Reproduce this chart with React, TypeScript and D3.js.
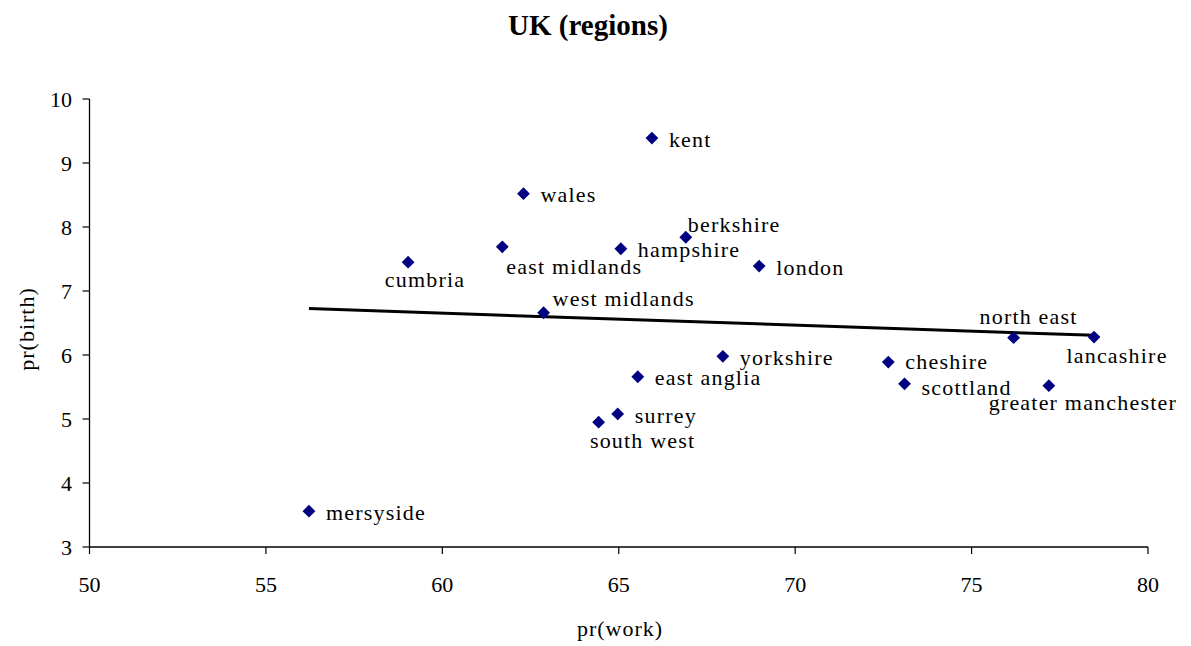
import * as d3 from "d3";

const regions = [
  "kent", "wales", "berkshire", "east midlands", "hampshire", "cumbria",
  "london", "west midlands", "north east", "lancashire", "yorkshire",
  "cheshire", "east anglia", "scottland", "greater manchester", "surrey",
  "south west", "mersyside",
];
const prWork = [
  65.94, 62.3, 66.9, 61.7, 65.06, 59.03, 68.98, 62.87, 76.19, 78.47, 67.95,
  72.64, 65.54, 73.1, 77.19, 64.97, 64.43, 56.22,
];
const prBirth = [
  9.39, 8.52, 7.84, 7.69, 7.66, 7.45, 7.39, 6.66, 6.27, 6.28, 5.98, 5.89,
  5.66, 5.55, 5.52, 5.08, 4.95, 3.56,
];
const xTicks = [50, 55, 60, 65, 70, 75, 80];
const yTicks = [3, 4, 5, 6, 7, 8, 9, 10];

// where each label sits relative to its marker (hand-placed in the original)
const right = { dx: 17, dy: 1, anchor: "start" };
const labelSpot: Record<string, { dx: number; dy: number; anchor: string }> = {
  berkshire: { dx: 2, dy: -13, anchor: "start" },
  "east midlands": { dx: 4, dy: 19, anchor: "start" },
  cumbria: { dx: 17, dy: 17, anchor: "middle" },
  "west midlands": { dx: 9, dy: -14, anchor: "start" },
  "north east": { dx: 15, dy: -21, anchor: "middle" },
  lancashire: { dx: 23, dy: 18, anchor: "middle" },
  cheshire: { dx: 17, dy: -1, anchor: "start" },
  scottland: { dx: 17, dy: 3, anchor: "start" },
  "greater manchester": { dx: 34, dy: 17, anchor: "middle" },
  "south west": { dx: 44, dy: 18, anchor: "middle" },
};

const W = 1191;
const H = 646;
const font = "'Liberation Serif', 'Times New Roman', serif";

export default function App() {
  const x = d3.scaleLinear().domain([50, 80]).range([89.5, 1148]);
  const y = d3.scaleLinear().domain([3, 10]).range([547, 99]);

  // least-squares trend line across the data range
  const mx = d3.mean(prWork) ?? 0;
  const my = d3.mean(prBirth) ?? 0;
  const slope =
    d3.sum(prWork, (v, i) => (v - mx) * (prBirth[i] - my)) /
    d3.sum(prWork, (v) => (v - mx) ** 2);
  const [x0, x1] = d3.extent(prWork) as [number, number];
  const trend = d3.line<number>()
    .x((d) => x(d))
    .y((d) => y(my + slope * (d - mx)));

  const diamond = d3.symbol().type(d3.symbolSquare).size(82)();

  return (
    <svg
      width={W}
      height={H}
      style={{ position: "absolute", left: 0, top: 0, background: "#fff" }}
      fontFamily={font}
    >
      <text x={588} y={35} textAnchor="middle" fontSize={29} fontWeight="bold">
        UK (regions)
      </text>

      {/* y axis */}
      <line x1={x(50)} x2={x(50)} y1={y(10)} y2={y(3)} stroke="#000" strokeWidth={1.3} />
      {yTicks.map((t) => (
        <g key={t}>
          <line x1={x(50) - 7} x2={x(50)} y1={y(t)} y2={y(t)} stroke="#000" strokeWidth={1.2} />
          <text x={72} y={y(t)} dy="0.35em" textAnchor="end" fontSize={22}>
            {t}
          </text>
        </g>
      ))}

      {/* x axis */}
      <line x1={x(50)} x2={x(80)} y1={y(3)} y2={y(3)} stroke="#000" strokeWidth={1.3} />
      {xTicks.map((t) => (
        <g key={t}>
          <line x1={x(t)} x2={x(t)} y1={y(3)} y2={y(3) + 7} stroke="#000" strokeWidth={1.2} />
          <text x={x(t)} y={584} dy="0.35em" textAnchor="middle" fontSize={22}>
            {t}
          </text>
        </g>
      ))}

      <text x={620} y={628} dy="0.35em" textAnchor="middle" fontSize={22} letterSpacing={1}>
        pr(work)
      </text>
      <text
        transform={`translate(26,329) rotate(-90)`}
        dy="0.35em"
        textAnchor="middle"
        fontSize={22}
        letterSpacing={1}
      >
        pr(birth)
      </text>

      <path d={trend([x0, x1]) ?? ""} fill="none" stroke="#000" strokeWidth={3} />

      {regions.map((name, i) => {
        const px = x(prWork[i]);
        const py = y(prBirth[i]);
        const spot = labelSpot[name] ?? right;
        return (
          <g key={name}>
            <path d={diamond} transform={`translate(${px},${py}) rotate(45)`} fill="#000080" />
            <text
              x={px + spot.dx}
              y={py + spot.dy}
              dy="0.35em"
              textAnchor={spot.anchor}
              fontSize={22}
              letterSpacing={1.2}
            >
              {name}
            </text>
          </g>
        );
      })}
    </svg>
  );
}
